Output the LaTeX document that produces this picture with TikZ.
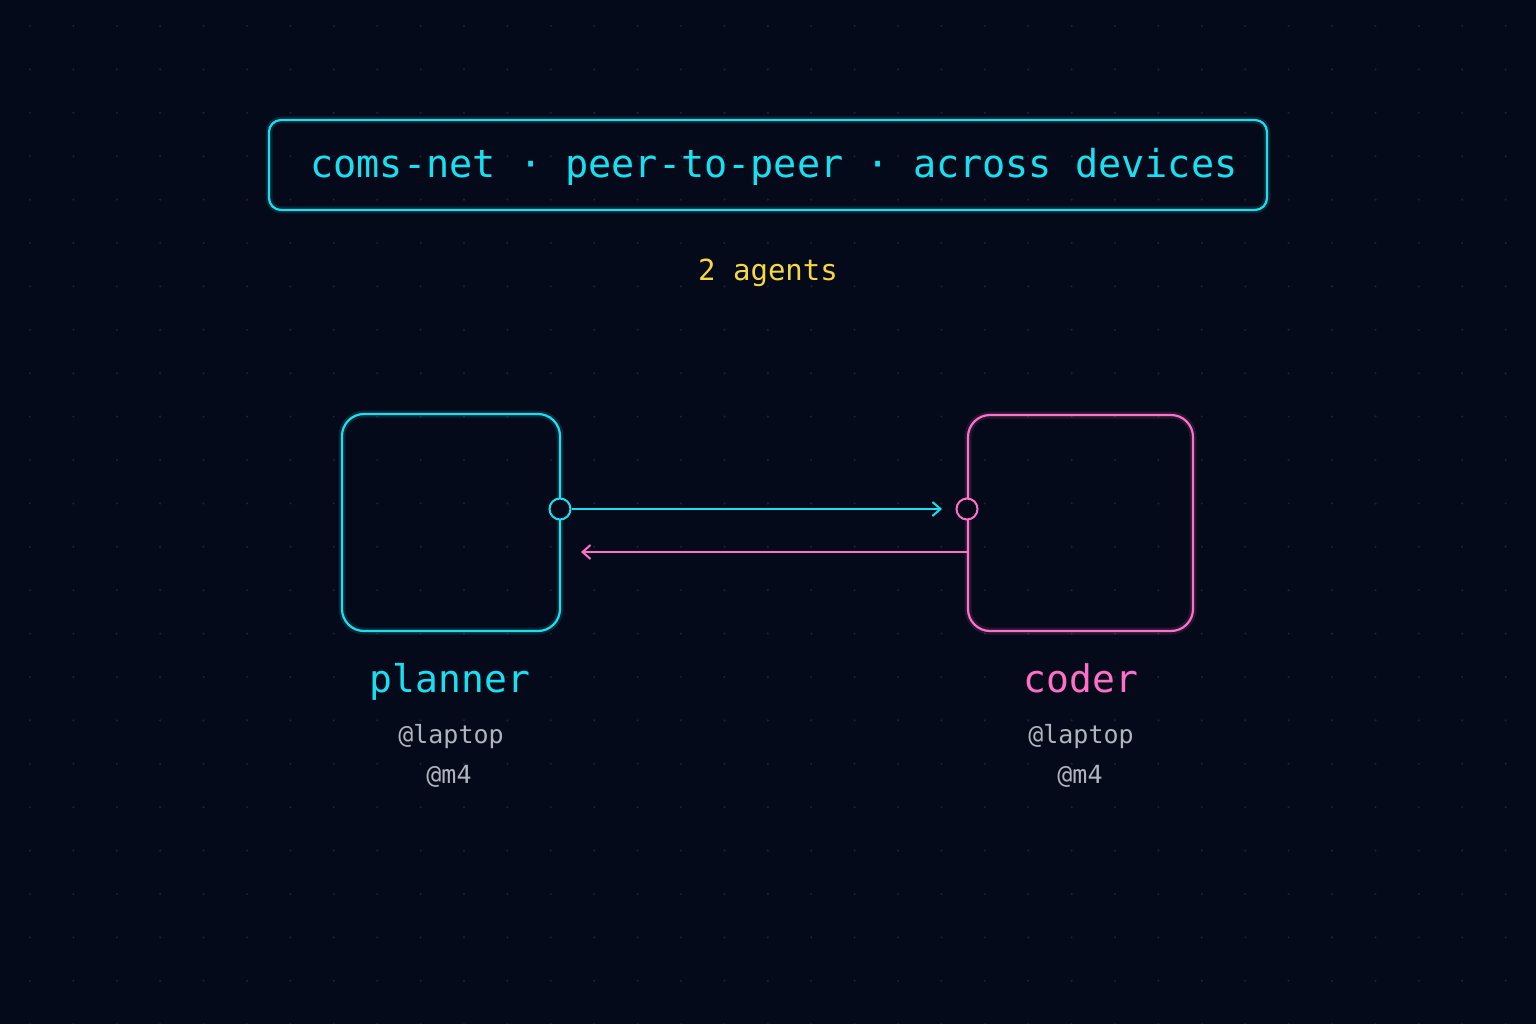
\documentclass[tikz,border=0pt]{standalone}
\usepackage{fontspec}
\setmonofont{DejaVu Sans Mono}
\usetikzlibrary{arrows.meta}
\definecolor{bg}{HTML}{050A1A}
\definecolor{cy}{HTML}{19E0F0}
\definecolor{pk}{HTML}{FF6EC7}
\definecolor{yl}{HTML}{F5D742}
\definecolor{gr}{HTML}{B0B4C0}
\definecolor{dot}{HTML}{1C2236}
\begin{document}
\begin{tikzpicture}[x=1pt,y=-1pt,
  glow/.style={line width=7pt,draw opacity=0.12},
  box/.style={line width=2.2pt,rounded corners=22pt},
  lbl/.style={font=\ttfamily\fontsize{38}{40}\selectfont,anchor=base},
  sub/.style={font=\ttfamily\fontsize{25}{28}\selectfont,text=gr,anchor=base},
  conn/.style={line width=2pt,-{Straight Barb[length=8pt,width=14pt]}}]
\fill[bg] (0,0) rectangle (1536,1024);
\useasboundingbox (0,0) rectangle (1536,1024);
\foreach \i in {0,...,35} \foreach \j in {0,...,23}
  \fill[dot] (30+43.4*\i,26+43.4*\j) circle (1.2pt);
% title
\draw[cy,glow,rounded corners=12pt] (269,120) rectangle (1267,210);
\draw[cy,line width=2.2pt,rounded corners=12pt] (269,120) rectangle (1267,210);
\node[lbl,text=cy,font=\ttfamily\fontsize{38.5}{40}\selectfont] (title) at (774,178) {coms-net · peer-to-peer · across devices};
\node[font=\ttfamily\fontsize{29}{32}\selectfont,text=yl,anchor=base] (count) at (768,280) {2 agents};
% boxes
\draw[cy,glow,rounded corners=22pt] (342,414) rectangle (560,631);
\draw[cy,box] (342,414) rectangle (560,631);
\draw[pk,glow,rounded corners=22pt] (968,415) rectangle (1193,631);
\draw[pk,box] (968,415) rectangle (1193,631);
\coordinate (pr) at (560,509);
\coordinate (cl) at (967,509);
\node[circle,draw=cy,fill=bg,line width=2pt,minimum size=21pt,inner sep=0] (pport) at (pr) {};
\node[circle,draw=pk,fill=bg,line width=2pt,minimum size=21pt,inner sep=0] (cport) at (cl) {};
\coordinate (ctip) at (942,509);
\coordinate (pout) at (968,552);
\coordinate (ptip) at (581,552);
\draw[cy,conn] (pport) -- (ctip);
\draw[pk,conn] (pout) -- (ptip);
% labels
\node[lbl,text=cy] (pl) at (450,692) {planner};
\node[sub] (pl1) at (451,743) {@laptop};
\node[sub] (pl2) at (449,783) {@m4};
\node[lbl,text=pk] (cdr) at (1081,692) {coder};
\node[sub] (cl1) at (1081,743) {@laptop};
\node[sub] (cl2) at (1080,783) {@m4};
\end{tikzpicture}
\end{document}
